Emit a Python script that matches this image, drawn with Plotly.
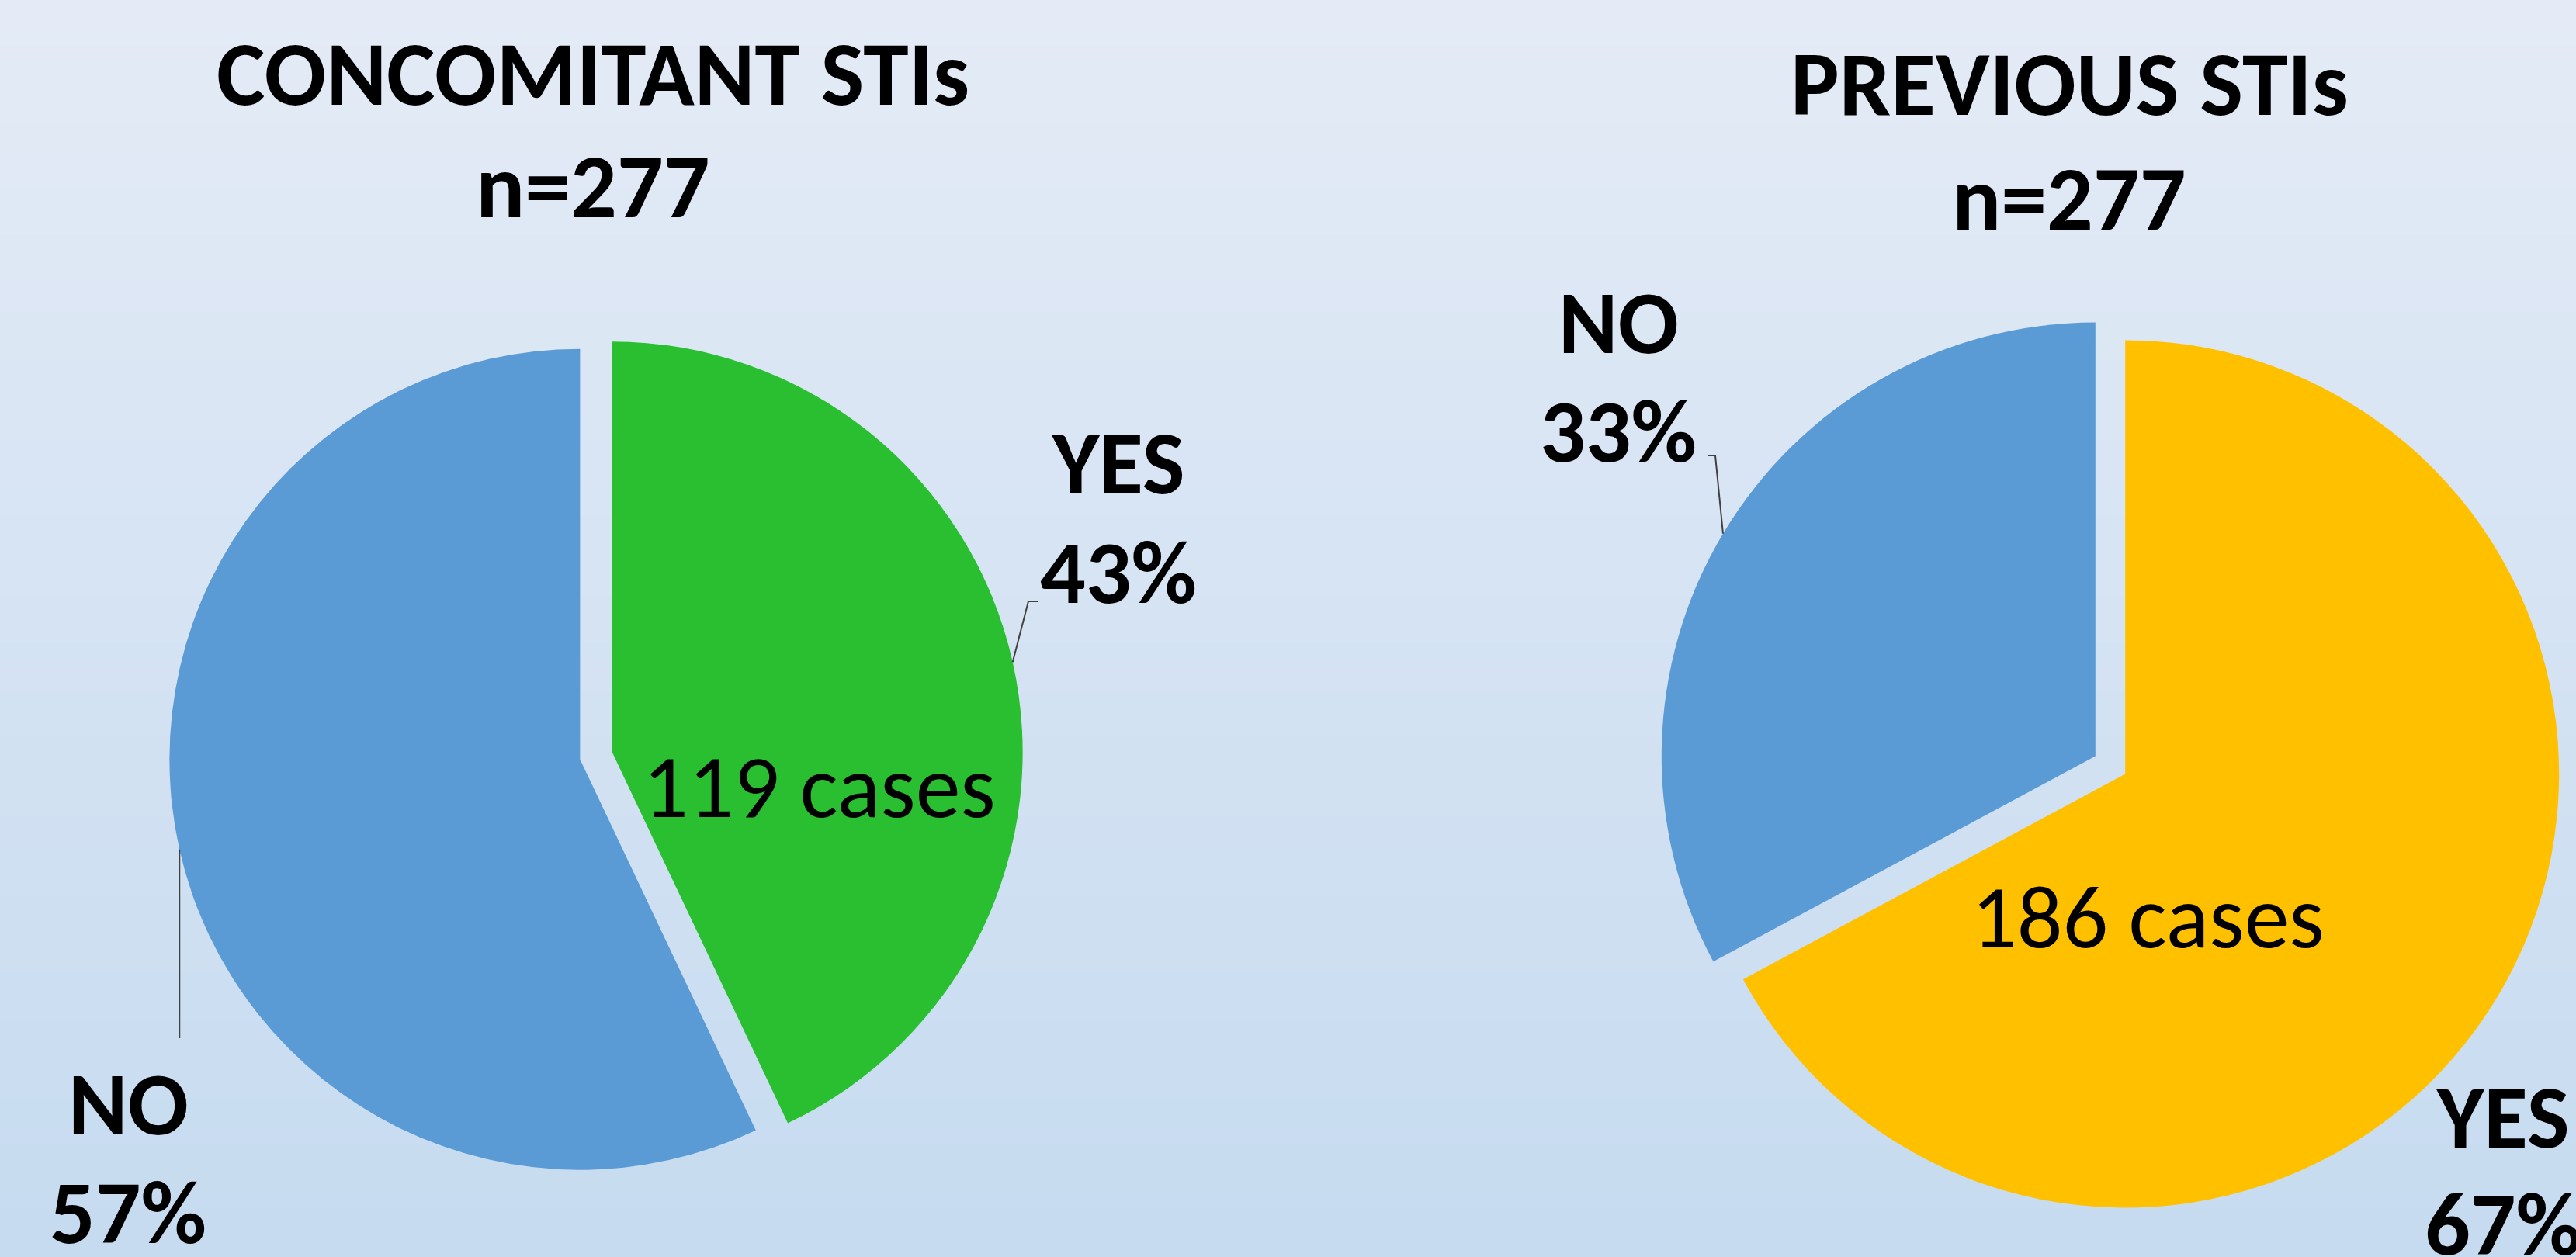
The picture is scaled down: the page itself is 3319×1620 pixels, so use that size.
import math
import plotly.graph_objects as go

# ---------------- data ----------------
categories = ["YES", "NO"]
concomitant_values = [119, 158]
previous_values = [186, 91]
chart_titles = ["CONCOMITANT STIs", "PREVIOUS STIs"]
n_totals = [277, 277]
case_texts = ["119 cases", "186 cases"]
concomitant_colors = ["#29bf30", "#5b9bd5"]
previous_colors = ["#ffc000", "#5b9bd5"]

# ---------------- layout constants ----------------
W, H = 3319, 1620
PULL = 0.04
FONT = "Carlito, Calibri, Lato, sans-serif"
TITLE_SIZE, LABEL_SIZE, CASE_SIZE = 118, 116, 116
pies = [
    dict(values=concomitant_values, colors=concomitant_colors, cx=768, cy=974, r=529,
         title_xy=(764, 95, 240), case_xy=(1055, 1013),
         label_xy={"YES": (1441, 597, 737), "NO": (165, 1422, 1562)},
         leader={"YES": [(1325, 775), (1338, 775)], "NO": [(None, 1338)]}),
    dict(values=previous_values, colors=previous_colors, cx=2719, cy=986, r=559,
         title_xy=(2666, 108, 256), case_xy=(2767, 1181),
         label_xy={"YES": (3225, 1439, 1577), "NO": (2085, 415, 555)},
         leader={"NO": [(2210, 587), (2201, 587)]}),
]


def px2paper(x, y):
    return x / W, 1 - y / H


fig = go.Figure()
annotations = []
shapes = []


def add_text(x, y, text, size):
    X, Y = px2paper(x, y)
    annotations.append(dict(x=X, y=Y, xref="paper", yref="paper", showarrow=False,
                            xanchor="center", yanchor="middle", text=text,
                            font=dict(family=FONT, size=size, color="black")))


# background vertical gradient (bands)
top_c = (228, 235, 246)
bot_c = (198, 219, 240)
NB = 80
for i in range(NB):
    t = i / (NB - 1)
    c = tuple(round(top_c[k] + (bot_c[k] - top_c[k]) * t) for k in range(3))
    shapes.append(dict(type="rect", xref="paper", yref="paper", x0=0, x1=1,
                       y0=1 - (i + 1) / NB, y1=1 - i / NB + 0.001,
                       fillcolor="rgb(%d,%d,%d)" % c, line=dict(width=0), layer="below"))

for k, p in enumerate(pies):
    half = p["r"] * (1 + PULL)
    dx0, dy1 = px2paper(p["cx"] - half, p["cy"] - half)
    dx1, dy0 = px2paper(p["cx"] + half, p["cy"] + half)
    fig.add_trace(go.Pie(
        labels=categories, values=p["values"], sort=False, direction="clockwise",
        rotation=0, pull=[PULL, PULL], marker=dict(colors=p["colors"], line=dict(width=0)),
        textinfo="none", hoverinfo="label+value+percent", showlegend=False,
        domain=dict(x=[dx0, dx1], y=[dy0, dy1]),
    ))
    total = sum(p["values"])
    tx, ty1, ty2 = p["title_xy"]
    add_text(tx, ty1, "<b>%s</b>" % chart_titles[k], TITLE_SIZE)
    add_text(tx, ty2, "<b>n=%d</b>" % n_totals[k], TITLE_SIZE)
    add_text(*p["case_xy"], case_texts[k], CASE_SIZE)
    cum = 0
    for cat, v in zip(categories, p["values"]):
        pct = round(v / total * 100)
        lx, ly1, ly2 = p["label_xy"][cat]
        add_text(lx, ly1, "<b>%s</b>" % cat, LABEL_SIZE)
        add_text(lx, ly2, "<b>%d%%</b>" % pct, LABEL_SIZE)
        theta = 2 * math.pi * (cum + v / 2) / total
        ex = p["cx"] + p["r"] * (1 + PULL) * math.sin(theta)
        ey = p["cy"] - p["r"] * (1 + PULL) * math.cos(theta)
        if cat in p["leader"]:
            pts = [(ex, ey)] + [((ex if a is None else a), b) for a, b in p["leader"][cat]]
            for (x0, y0), (x1, y1) in zip(pts[:-1], pts[1:]):
                X0, Y0 = px2paper(x0, y0)
                X1, Y1 = px2paper(x1, y1)
                shapes.append(dict(type="line", xref="paper", yref="paper",
                                   x0=X0, y0=Y0, x1=X1, y1=Y1,
                                   line=dict(color="#404040", width=2), layer="above"))
        cum += v

fig.update_layout(width=W, height=H, margin=dict(l=0, r=0, t=0, b=0),
                  paper_bgcolor="rgb(214,226,243)", plot_bgcolor="rgba(0,0,0,0)",
                  annotations=annotations, shapes=shapes, showlegend=False)
fig.write_html("out.html", config={"displayModeBar": False},
               post_script="document.body.style.margin='0';document.body.style.overflow='hidden';")
